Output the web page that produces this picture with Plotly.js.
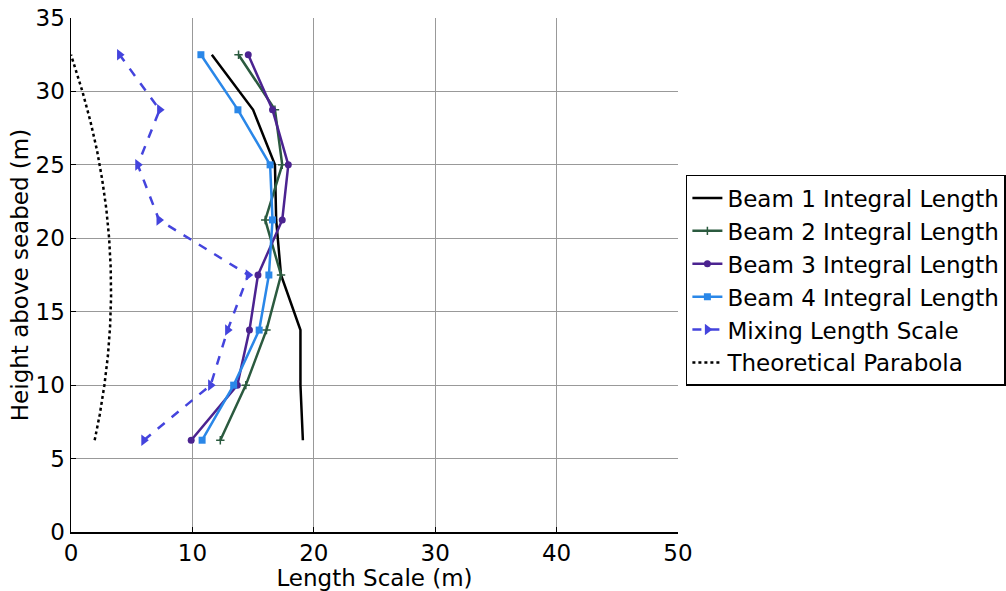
<!DOCTYPE html>
<html>
<head>
<meta charset="utf-8">
<script src="https://cdn.plot.ly/plotly-3.0.1.min.js"></script>
<style>html,body{margin:0;padding:0;background:#fff;}#chart{width:1006px;height:591px;}</style>
</head>
<body>
<div id="chart"></div>
<script>
// Heights above seabed (m)
const heights = [6.25, 10, 13.75, 17.5, 21.25, 25, 28.75, 32.5];
// Integral length scales (m)
const beam1 = [19.1, 18.9, 18.9, 17.3, 16.9, 16.8, 15.0, 11.6];
const beam2 = [12.3, 14.4, 16.1, 17.3, 16.0, 17.4, 16.8, 13.8];
const beam3 = [9.9, 13.7, 14.7, 15.4, 17.4, 17.9, 16.6, 14.6];
const beam4 = [10.8, 13.4, 15.5, 16.3, 16.6, 16.4, 13.75, 10.7];
const mixing = [6.0, 11.5, 12.9, 14.6, 7.25, 5.5, 7.3, 4.0];
// Theoretical parabola
const paraHeights = [6.25, 8, 10, 12, 14, 16, 18, 20, 22, 24, 26, 28, 30, 31, 32, 32.5];
const paraLength = [1.95, 2.37, 2.75, 3.04, 3.22, 3.30, 3.27, 3.14, 2.91, 2.57, 2.14, 1.59, 0.94, 0.55, 0.19, 0.0];

const names = ['Beam 1 Integral Length','Beam 2 Integral Length','Beam 3 Integral Length','Beam 4 Integral Length','Mixing Length Scale','Theoretical Parabola'];

const traces = [
  {x: beam1, y: heights, name: names[0], mode: 'lines', line: {color: '#000000', width: 2.5}},
  {x: beam2, y: heights, name: names[1], mode: 'lines+markers', line: {color: '#2b5a3f', width: 2.5},
   marker: {symbol: 'cross-thin', size: 6, line: {color: '#2b5a3f', width: 1.5}}},
  {x: beam3, y: heights, name: names[2], mode: 'lines+markers', line: {color: '#4b2390', width: 2.5},
   marker: {symbol: 'circle', size: 7, color: '#4b2390'}},
  {x: beam4, y: heights, name: names[3], mode: 'lines+markers', line: {color: '#2a87e8', width: 2.5},
   marker: {symbol: 'square', size: 7, color: '#2a87e8'}},
  {x: mixing, y: heights, name: names[4], mode: 'lines+markers', line: {color: '#4444dd', width: 2.5, dash: 'dash'},
   marker: {symbol: 'triangle-right', size: 10, color: '#4444dd'}},
  {x: paraLength, y: paraHeights, name: names[5], mode: 'lines', line: {color: '#000000', width: 2.5, dash: 'dot'}}
];

const fam = 'DejaVu Sans, Arial, sans-serif';

const layout = {
  width: 1006, height: 591,
  margin: {l: 71, r: 328, t: 18, b: 59, pad: 0, autoexpand: false},
  paper_bgcolor: '#fff', plot_bgcolor: '#fff',
  font: {family: fam, size: 23, color: '#000'},
  showlegend: true,
  legend: {
    x: 1.013, y: 0.6946, xanchor: 'left', yanchor: 'top',
    bgcolor: '#fff', bordercolor: '#000', borderwidth: 1.5,
    font: {family: fam, size: 23, color: '#000'},
    itemwidth: 30
  },
  xaxis: {
    range: [0, 50], tickvals: [0, 10, 20, 30, 40, 50],
    showgrid: true, gridcolor: '#999', gridwidth: 1,
    zeroline: false, showline: true, linecolor: '#000', linewidth: 1.5,
    ticks: 'inside', ticklen: 5, tickcolor: '#000',
    tickfont: {family: fam, size: 23, color: '#000'},
    title: {text: 'Length Scale (m)', font: {family: fam, size: 23, color: '#000'}, standoff: 0},
    automargin: false
  },
  yaxis: {
    range: [0, 35], tickvals: [0, 5, 10, 15, 20, 25, 30, 35],
    showgrid: true, gridcolor: '#999', gridwidth: 1,
    zeroline: false, showline: true, linecolor: '#000', linewidth: 1.5,
    ticks: 'inside', ticklen: 5, tickcolor: '#000',
    tickfont: {family: fam, size: 23, color: '#000'},
    title: {text: 'Height above seabed (m)', font: {family: fam, size: 23, color: '#000'}, standoff: 0},
    automargin: false
  }
};

Plotly.newPlot('chart', traces, layout, {displayModeBar: false, staticPlot: true});
</script>
</body>
</html>
